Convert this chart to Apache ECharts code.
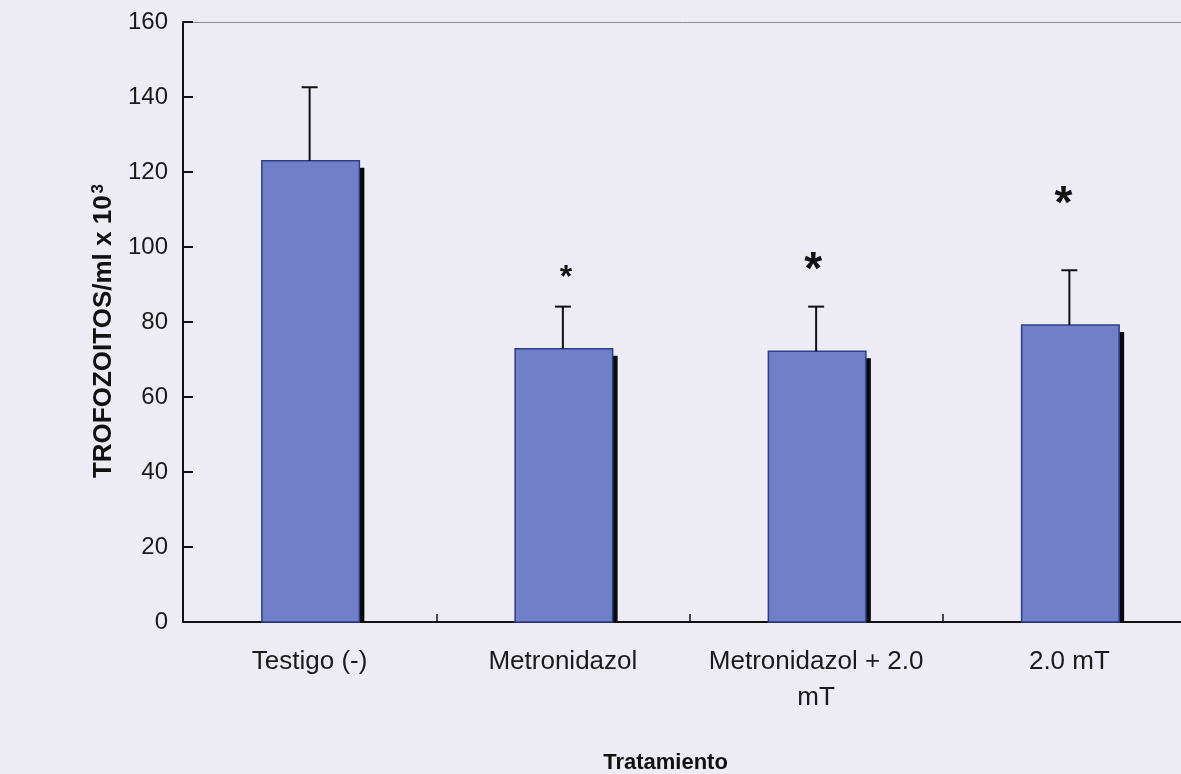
<!DOCTYPE html>
<html>
<head>
<meta charset="utf-8">
<script src="https://cdn.jsdelivr.net/npm/echarts@6/dist/echarts.min.js"></script>
<style>
  html, body { margin: 0; padding: 0; background: #EDECF4; }
  #chart { width: 1181px; height: 774px; }
</style>
</head>
<body>
<div id="chart"></div>
<script>
// ---- data ----
const categories = ['Testigo (-)', 'Metronidazol', 'Metronidazol + 2.0\nmT', '2.0 mT'];
const means = [123.0, 72.9, 72.2, 79.2];
const errors = [19.6, 11.2, 11.9, 14.6];
const significant = [false, true, true, true];
const yTicks = [0, 20, 40, 60, 80, 100, 120, 140, 160];

// ---- styling (not data) ----
const asteriskStyle = [
  null,
  { size: 32, dy: 35, dx: 3 },
  { size: 46, dy: 45, dx: -3 },
  { size: 46, dy: 75, dx: -6 }
];
const FONT = "'Liberation Sans', Arial, sans-serif";

const chart = echarts.init(document.getElementById('chart'), null, { renderer: 'canvas' });

const seriesData = categories.map((c, i) => [i, means[i], errors[i]]);

function renderItem(params, api) {
  const idx = api.value(0);
  const mean = api.value(1);
  const err = api.value(2);
  const top = api.coord([idx, mean]);
  const base = api.coord([idx, 0]);
  const errTop = api.coord([idx, mean + err]);
  const band = api.size([1, 0])[0];
  const w = band * 0.385;
  const cx = top[0];
  const x0 = cx - w / 2 + 1;
  const children = [
    {
      type: 'rect',
      shape: { x: x0 + w, y: top[1] + 7, width: 5, height: base[1] - top[1] - 7 },
      style: { fill: '#0a0a0a' }
    },
    {
      type: 'rect',
      shape: { x: x0, y: top[1], width: w, height: base[1] - top[1] },
      style: { fill: '#6F80C8', stroke: '#2E3C8C', lineWidth: 1.5 }
    },
    {
      type: 'line',
      shape: { x1: cx, y1: top[1], x2: cx, y2: errTop[1] },
      style: { stroke: '#111', lineWidth: 2 }
    },
    {
      type: 'line',
      shape: { x1: cx - 8, y1: errTop[1], x2: cx + 8, y2: errTop[1] },
      style: { stroke: '#111', lineWidth: 2 }
    }
  ];
  if (significant[idx]) {
    const st = asteriskStyle[idx];
    children.push({
      type: 'text',
      x: cx + st.dx,
      y: errTop[1] - st.dy + st.size * 0.22,
      style: {
        text: '*',
        font: 'bold ' + st.size + 'px ' + FONT,
        fill: '#111',
        align: 'center',
        verticalAlign: 'middle'
      }
    });
  }
  return { type: 'group', children: children };
}

const option = {
  backgroundColor: '#EDECF4',
  animation: false,
  grid: { left: 183, width: 1013, top: 22, height: 600, containLabel: false, outerBoundsMode: 'none' },
  xAxis: [
    {
      type: 'category',
      data: categories,
      position: 'bottom',
      boundaryGap: true,
      axisLine: { show: true, lineStyle: { color: '#111', width: 2 } },
      axisTick: { show: true, inside: true, length: 8, alignWithLabel: false, lineStyle: { color: '#111', width: 1.5 } },
      axisLabel: {
        show: true, interval: 0, margin: 22,
        fontFamily: FONT, fontSize: 26, color: '#1a1a1a', lineHeight: 36
      },
      name: 'Tratamiento',
      nameLocation: 'middle',
      nameGap: 130,
      nameTextStyle: { fontFamily: FONT, fontSize: 22, fontWeight: 'bold', color: '#111', padding: [0, 48, 0, 0] },
      splitLine: { show: false }
    },
    {
      type: 'category',
      data: categories,
      position: 'top',
      axisLine: { show: true, lineStyle: { color: '#8a8a8a', width: 1 } },
      axisTick: { show: false },
      axisLabel: { show: false },
      splitLine: { show: false }
    }
  ],
  yAxis: {
    type: 'value',
    min: yTicks[0],
    max: yTicks[yTicks.length - 1],
    interval: yTicks[1] - yTicks[0],
    axisLine: { show: true, lineStyle: { color: '#111', width: 2 } },
    axisTick: { show: true, inside: true, length: 10, lineStyle: { color: '#111', width: 2 } },
    axisLabel: { fontFamily: FONT, fontSize: 24, color: '#1a1a1a', margin: 15 },
    splitLine: { show: false },
    name: '{a|TROFOZOITOS/ml x 10}{s|3}',
    nameLocation: 'middle',
    nameGap: 62,
    nameTextStyle: {
      color: '#111',
      padding: [0, 0, 0, -18],
      rich: {
        a: { fontFamily: FONT, fontSize: 26, fontWeight: 'bold', color: '#111' },
        s: { fontFamily: FONT, fontSize: 17, fontWeight: 'bold', color: '#111', verticalAlign: 'top', padding: [0, 0, 12, 2] }
      }
    }
  },
  series: [
    {
      type: 'custom',
      renderItem: renderItem,
      data: seriesData,
      encode: { x: 0, y: 1 },
      clip: false
    }
  ]
};

chart.setOption(option);
</script>
</body>
</html>
